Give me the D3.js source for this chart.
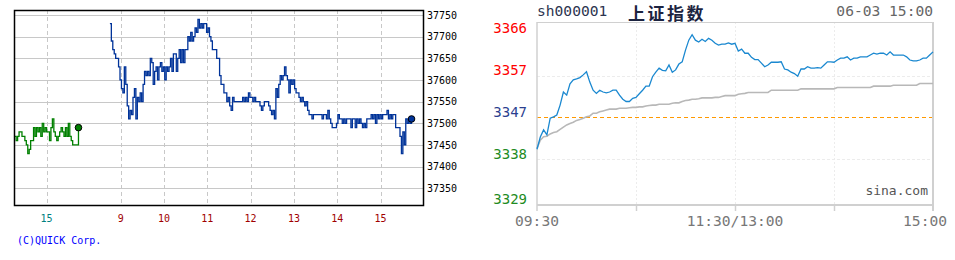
<!DOCTYPE html>
<html>
<head>
<meta charset="utf-8">
<script src="https://cdn.jsdelivr.net/npm/d3@7"></script>
<style>
  body { margin: 0; background: #fff; }
  svg { display: block; }
</style>
</head>
<body>
<svg width="955" height="260"></svg>
<script>
// ---------- left panel: night/day futures (QUICK) ----------
const prevStart = 14 * 60 + 16;   // previous session, minutes of day
const todayStart = 8 * 60 + 45;   // today's session
const stepMin = 2;
const prevValues = [37470,37460,37470,37480,37480,37470,37470,37460,37450,37430,
  37440,37460,37460,37490,37470,37490,37480,37490,37470,37500,
  37480,37490,37480,37480,37460,37490,37510,37480,37470,37460,
  37470,37480,37490,37480,37470,37490,37470,37500,37470,37460,
  37450,37450,37450,37450,37490];
const todayValues = [37730,37690,37670,37660,37650,37650,37630,37600,37580,37570,
  37630,37590,37540,37510,37530,37520,37560,37580,37510,37560,
  37550,37570,37550,37590,37620,37610,37620,37610,37650,37640,
  37590,37620,37630,37600,37630,37640,37620,37630,37600,37630,
  37620,37630,37650,37620,37660,37660,37620,37650,37670,37640,
  37670,37640,37670,37670,37700,37690,37710,37690,37700,37720,
  37710,37740,37720,37730,37720,37730,37730,37710,37720,37700,
  37690,37670,37670,37670,37650,37650,37610,37590,37590,37570,
  37570,37550,37560,37540,37530,37560,37550,37550,37550,37550,
  37550,37550,37560,37550,37560,37550,37570,37560,37560,37550,
  37560,37550,37550,37550,37540,37530,37540,37550,37550,37550,
  37540,37530,37520,37530,37510,37580,37560,37590,37610,37600,
  37610,37630,37610,37600,37570,37600,37590,37600,37580,37570,
  37570,37560,37550,37560,37550,37540,37550,37530,37520,37520,
  37510,37520,37520,37520,37520,37520,37520,37510,37520,37520,
  37510,37530,37510,37500,37490,37490,37490,37500,37520,37510,
  37510,37500,37510,37500,37510,37510,37510,37490,37510,37510,
  37490,37510,37500,37510,37500,37490,37500,37490,37510,37510,
  37510,37520,37510,37520,37500,37520,37510,37520,37510,37520,
  37520,37520,37530,37510,37520,37510,37520,37520,37490,37490,
  37490,37470,37430,37480,37450,37510,37500,37510,37500,37510];
const leftYTicks = [37350, 37400, 37450, 37500, 37550, 37600, 37650, 37700, 37750];
const prevHourTicks = [15];
const todayHourTicks = [9, 10, 11, 12, 13, 14, 15];

// ---------- right panel: sh000001 ----------
const sseCode = "sh000001";
const sseName = "上证指数";
const sseStamp = "06-03 15:00";
const ssePrevClose = 3347.49;
const sseLevels = [3365.99, 3356.74, 3347.49, 3338.24, 3328.99];
const ssePrice = [3340.4,3343.1,3344.7,3343.6,3347.3,3347.6,3348.0,3350.2,3353.1,3352.4,
  3354.9,3355.8,3356.0,3356.3,3356.9,3357.6,3355.3,3353.5,3352.8,3353.5,
  3353.1,3352.9,3353.1,3353.5,3353.5,3352.4,3351.5,3351.0,3351.0,3351.7,
  3351.9,3352.7,3353.5,3354.4,3354.4,3356.5,3357.5,3358.4,3357.9,3357.8,
  3359.1,3357.5,3358.0,3359.3,3359.8,3362.4,3364.6,3365.8,3364.6,3364.2,
  3364.8,3364.3,3365.0,3364.6,3363.9,3363.5,3363.7,3363.7,3364.0,3363.7,
  3363.9,3362.2,3362.6,3361.7,3361.7,3360.8,3360.3,3360.3,3359.5,3358.7,
  3359.1,3359.7,3359.7,3359.7,3359.8,3358.2,3358.0,3357.5,3357.2,3356.6,
  3358.2,3358.2,3358.7,3358.4,3358.4,3358.5,3358.4,3359.1,3359.8,3359.8,
  3359.7,3360.2,3360.6,3360.6,3360.9,3360.2,3360.6,3360.6,3360.9,3360.9,
  3360.9,3361.3,3361.7,3361.5,3361.7,3361.7,3361.3,3362.0,3361.3,3361.3,
  3361.3,3361.3,3360.9,3360.2,3360.0,3360.0,3360.2,3360.6,3360.6,3361.3,3362.0];
const sseAvg = [3340.6,3342.4,3343.2,3343.3,3343.8,3344.1,3344.3,3344.8,3345.3,3345.8,
  3346.1,3346.4,3346.8,3347.0,3347.3,3347.6,3347.8,3348.4,3348.4,3348.7,
  3348.9,3349.1,3349.3,3349.3,3349.3,3349.5,3349.5,3349.5,3349.6,3349.7,
  3349.7,3349.8,3349.8,3350.0,3350.1,3350.2,3350.2,3350.4,3350.4,3350.4,
  3350.4,3350.6,3350.7,3350.7,3351.0,3351.2,3351.3,3351.5,3351.5,3351.6,
  3351.8,3351.8,3351.8,3351.8,3351.9,3351.9,3352.1,3352.3,3352.3,3352.3,
  3352.3,3352.6,3352.7,3352.8,3353.0,3353.0,3353.0,3353.0,3353.0,3353.0,
  3353.0,3353.5,3353.5,3353.5,3353.5,3353.5,3353.5,3353.5,3353.5,3353.5,
  3353.8,3353.8,3353.8,3353.8,3353.8,3353.8,3353.8,3353.8,3353.8,3353.8,
  3353.8,3354.1,3354.1,3354.1,3354.1,3354.1,3354.1,3354.1,3354.1,3354.1,
  3354.1,3354.1,3354.4,3354.4,3354.4,3354.4,3354.4,3354.4,3354.6,3354.6,
  3354.6,3354.6,3354.6,3354.6,3354.6,3354.6,3355.0,3355.0,3355.0,3355.0,3355.0];
const sseTickMinutes = [0, 60, 120, 180, 240];
const sseTickLabels = [[0, "09:30"], [120, "11:30/13:00"], [240, "15:00"]];

const svg = d3.select("svg");
const mono = "'DejaVu Sans Mono', monospace";

// ===== left chart =====
const L = { left: 14, right: 423, top: 10, bottom: 205 };
// prev-day times are stored as negative minutes (minute of day - 1440)
const xL = d3.scaleLinear()
  .domain([14 * 60 + 15 - 1440, 15 * 60 + 45 - 1440, 8 * 60 + 45, 16 * 60])
  .range([L.left, 79.2, 109.9, L.right + 0.8]);
const yL = d3.scaleLinear().domain([37311.4, 37761.5]).range([L.bottom, L.top]);

const prevData = prevValues.map((v, i) => [prevStart + i * stepMin - 1440, v]);
const todayData = todayValues.map((v, i) => [todayStart + i * stepMin, v]);

const gl = svg.append("g");
// horizontal grid
gl.selectAll(".hg").data(leftYTicks).join("line")
  .attr("x1", L.left).attr("x2", L.right)
  .attr("y1", d => Math.round(yL(d)) + 0.5).attr("y2", d => Math.round(yL(d)) + 0.5)
  .attr("stroke", "#c8c8c8");
// vertical dashed grid
const hourPos = prevHourTicks.map(h => ({ h, t: h * 60 - 1440, c: "#008080" }))
  .concat(todayHourTicks.map(h => ({ h, t: h * 60, c: "#a00000" })));
gl.selectAll(".vg").data(hourPos).join("line")
  .attr("x1", d => Math.round(xL(d.t)) + 0.5).attr("x2", d => Math.round(xL(d.t)) + 0.5)
  .attr("y1", L.top).attr("y2", L.bottom)
  .attr("stroke", "#c8c8c8").attr("stroke-dasharray", "4,3");

const lineL = d3.line().x(d => xL(d[0])).y(d => yL(d[1])).curve(d3.curveStepAfter);
gl.append("path").datum(prevData).attr("d", lineL)
  .attr("fill", "none").attr("stroke", "#008000").attr("stroke-width", 1.3);
gl.append("path").datum(todayData).attr("d", lineL)
  .attr("fill", "none").attr("stroke", "#003399").attr("stroke-width", 1.3);

// frame
gl.append("rect").attr("x", L.left + 0.5).attr("y", L.top + 0.5)
  .attr("width", L.right - L.left).attr("height", L.bottom - L.top)
  .attr("fill", "none").attr("stroke", "#000").attr("stroke-width", 1.5);

// end markers
const lastPrev = prevData[prevData.length - 1], lastToday = todayData[todayData.length - 1];
gl.append("circle").attr("cx", xL(lastPrev[0])).attr("cy", yL(lastPrev[1])).attr("r", 3.3)
  .attr("fill", "#008000").attr("stroke", "#000").attr("stroke-width", 1);
gl.append("circle").attr("cx", xL(lastToday[0])).attr("cy", yL(lastToday[1])).attr("r", 3.3)
  .attr("fill", "#003399").attr("stroke", "#000").attr("stroke-width", 1);

// y labels
gl.selectAll(".yl").data(leftYTicks).join("text")
  .attr("x", 427).attr("y", d => yL(d)).attr("dy", "0.36em")
  .attr("font-family", mono).attr("font-size", 10).attr("fill", "#000")
  .text(d => d);
// x labels
gl.selectAll(".xl").data(hourPos).join("text")
  .attr("x", d => xL(d.t)).attr("y", 221.5).attr("text-anchor", "middle")
  .attr("font-family", mono).attr("font-size", 10).attr("fill", d => d.c)
  .text(d => d.h);
gl.append("text").attr("x", 17).attr("y", 243.5)
  .attr("font-family", mono).attr("font-size", 10).attr("fill", "#0000ff")
  .text("(C)QUICK Corp.");

// ===== right chart =====
const R = { left: 537, right: 933, top: 22, bottom: 205 };
const xR = d3.scaleLinear().domain([0, 240]).range([R.left, R.right]);
const yR = d3.scaleLinear().domain([sseLevels[4], sseLevels[0]]).range([200.7, 33.9]);
const gr = svg.append("g");

// faint grid
gr.selectAll(".vg").data(sseTickMinutes.slice(1, 4)).join("line")
  .attr("x1", d => Math.round(xR(d)) + 0.5).attr("x2", d => Math.round(xR(d)) + 0.5)
  .attr("y1", R.top).attr("y2", R.bottom)
  .attr("stroke", "#ececec").attr("stroke-dasharray", "2,2");
gr.selectAll(".hg").data([sseLevels[1], sseLevels[3]]).join("line")
  .attr("x1", R.left).attr("x2", R.right)
  .attr("y1", d => Math.round(yR(d)) + 0.5).attr("y2", d => Math.round(yR(d)) + 0.5)
  .attr("stroke", "#ececec").attr("stroke-dasharray", "3,2");
// previous close
gr.append("line").attr("x1", R.left).attr("x2", R.right)
  .attr("y1", Math.round(yR(ssePrevClose)) + 0.5).attr("y2", Math.round(yR(ssePrevClose)) + 0.5)
  .attr("stroke", "#ff9900").attr("stroke-dasharray", "4,3");

// frame
gr.append("line").attr("x1", R.left).attr("x2", R.right).attr("y1", R.top + 0.5).attr("y2", R.top + 0.5)
  .attr("stroke", "#d0d0d0");
gr.append("line").attr("x1", R.left).attr("x2", R.right + 1).attr("y1", R.bottom).attr("y2", R.bottom)
  .attr("stroke", "#d0d0d0").attr("stroke-width", 2);
gr.append("line").attr("x1", R.left).attr("x2", R.left).attr("y1", R.top).attr("y2", 211)
  .attr("stroke", "#d0d0d0").attr("stroke-width", 1.5);
gr.append("line").attr("x1", R.right).attr("x2", R.right).attr("y1", R.top).attr("y2", 211)
  .attr("stroke", "#d0d0d0").attr("stroke-width", 2);
gr.selectAll(".tk").data(sseTickMinutes.slice(1, 4)).join("line")
  .attr("x1", d => Math.round(xR(d)) + 0.5).attr("x2", d => Math.round(xR(d)) + 0.5)
  .attr("y1", R.bottom).attr("y2", 211)
  .attr("stroke", "#d0d0d0").attr("stroke-width", 1.5);

const lineR = d3.line().x((d, i) => xR(i * 2)).y(d => yR(d));
gr.append("path").datum(sseAvg).attr("d", lineR)
  .attr("fill", "none").attr("stroke", "#b8b8b8").attr("stroke-width", 1.6);
gr.append("path").datum(ssePrice).attr("d", lineR)
  .attr("fill", "none").attr("stroke", "#1a88d0").attr("stroke-width", 1.3);

// y labels
const levelColor = (v) => v > ssePrevClose + 0.01 ? "#ff0000" : (v < ssePrevClose - 0.01 ? "#228b22" : "#2b3f8f");
gr.selectAll(".yl").data(sseLevels).join("text")
  .attr("x", 527).attr("y", (d, i) => i === 4 ? 204 : yR(d) - 0.5)
  .attr("text-anchor", "end")
  .attr("font-family", mono).attr("font-size", 14).attr("fill", d => levelColor(d))
  .text(d => d3.format(".0f")(d));
// x labels
gr.selectAll(".xl").data(sseTickLabels).join("text")
  .attr("x", (d, i) => i === 2 ? 947 : xR(d[0]))
  .attr("y", 226).attr("text-anchor", (d, i) => i === 2 ? "end" : "middle")
  .attr("font-family", mono).attr("font-size", 14.6).attr("fill", "#777")
  .text(d => d[1]);
// titles
gr.append("text").attr("x", 537).attr("y", 16)
  .attr("font-family", mono).attr("font-size", 14.6).attr("fill", "#2d3550")
  .text(sseCode);
gr.append("text").attr("x", 628).attr("y", 20)
  .attr("font-family", "'Noto Sans CJK SC', sans-serif").attr("font-size", 17)
  .attr("letter-spacing", 2.5)
  .attr("font-weight", 600).attr("fill", "#1c2340")
  .text(sseName);
gr.append("text").attr("x", 933).attr("y", 15.5).attr("text-anchor", "end")
  .attr("font-family", mono).attr("font-size", 14.6).attr("fill", "#666")
  .text(sseStamp);
gr.append("text").attr("x", 928).attr("y", 195).attr("text-anchor", "end")
  .attr("font-family", mono).attr("font-size", 13).attr("fill", "#555")
  .text("sina.com");
</script>
</body>
</html>
